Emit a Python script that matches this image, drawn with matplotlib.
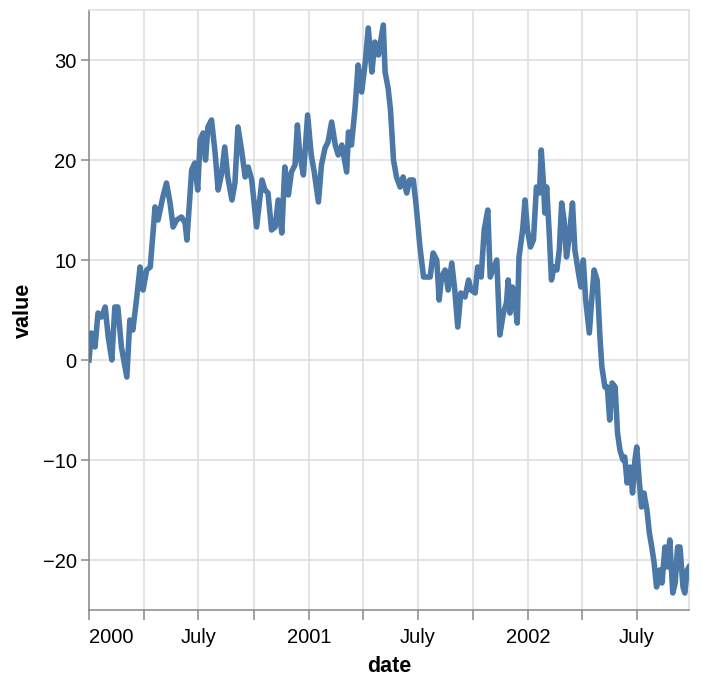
import matplotlib
matplotlib.use("Agg")
import matplotlib.pyplot as plt
import pandas as pd

# days since 2000-01-01
day = [0, 4, 10, 15, 21, 27, 32, 38, 43, 48, 54, 63, 68, 73, 79, 85, 90, 96,
       102, 110, 115, 123, 129, 135, 140, 146, 154, 160, 163, 171, 176, 181,
       185, 190, 194, 198, 204, 210, 215, 221, 226, 231, 238, 243, 248, 254,
       260, 265, 271, 276, 279, 288, 293, 298, 304, 310, 315, 321, 326, 332,
       337, 343, 347, 351, 357, 364, 370, 375, 382, 387, 393, 398, 404, 410,
       415, 421, 429, 432, 437, 443, 448, 454, 460, 465, 471, 476, 482, 490,
       493, 498, 502, 507, 512, 518, 523, 529, 534, 540, 545, 551, 557, 562,
       568, 573, 579, 583, 587, 593, 598, 604, 609, 614, 619, 626, 632, 636,
       643, 647, 653, 658, 664, 668, 679, 684, 690, 695, 698, 701, 705, 709,
       713, 716, 722, 726, 730, 735, 740, 745, 750, 753, 756, 759, 762, 766,
       770, 774, 779, 783, 787, 791, 795, 799, 805, 809, 815, 819, 823, 827,
       833, 837, 841, 846, 851, 854, 859, 863, 867, 871, 876, 880, 884, 889,
       892, 896, 901, 905, 909, 912, 916, 920, 924, 929, 933, 937, 941, 945,
       950, 954, 959, 963, 967, 972, 976, 980, 984, 989, 992, 996, 999]
value = [0, 2.7, 1.3, 4.7, 4.3, 5.3, 2.3, 0, 5.3, 5.3, 1.3, -1.7, 4, 3, 6, 9.3,
         7, 9, 9.3, 15.3, 14, 16.3, 17.7, 15.7, 13.3, 14, 14.3, 13.7, 12, 19,
         19.7, 17, 22, 22.7, 20, 23.3, 24, 20.7, 17, 18.7, 21.3, 18.3, 16,
         17.7, 23.3, 21, 18.3, 19.3, 18, 15, 13.3, 18, 17, 16.7, 13, 13.3, 16,
         12.7, 19.3, 16.5, 18.8, 19.5, 23.5, 20.5, 18.5, 24.5, 20.5, 18.8,
         15.8, 19.5, 21.2, 21.8, 23.8, 21.5, 20.5, 21.5, 18.8, 22.8, 21.5,
         25.2, 29.5, 26.8, 29.8, 33.2, 28.8, 31.8, 30.5, 33.5, 28.8, 27.2, 25,
         20, 18.3, 17.3, 18.3, 16.7, 18, 18, 15.3, 11.3, 8.3, 8.3, 8.3, 10.7,
         10, 6, 8.3, 9, 7, 9.7, 7, 3.3, 6.7, 6.3, 8, 7, 6.7, 9.3, 8.3, 13, 15,
         8.3, 10, 2.5, 4.7, 5.7, 8, 4.7, 7.3, 6, 3.7, 10.3, 13, 16, 13, 11.3,
         12, 17.3, 16.7, 21, 18.3, 14.7, 17.3, 13, 8, 9.3, 9, 11, 15.7, 14,
         10.3, 12, 15.7, 11, 8.7, 7.3, 10, 6, 2.7, 6, 9, 8, 2, -0.7, -2.7,
         -2.7, -6, -2.3, -2.7, -7.3, -9, -10, -9.7, -12.3, -10.7, -13.3, -10,
         -8.7, -12, -14.7, -13.3, -15, -17.3, -18.7, -20.3, -22.7, -21, -22.3,
         -18.7, -20.7, -18, -23.3, -22.3, -18.7, -18.7, -22.7, -23.3, -21,
         -20.7]

tick_dates = ["2000-01-01", "2000-04-01", "2000-07-01", "2000-10-01",
              "2001-01-01", "2001-04-01", "2001-07-01", "2001-10-01",
              "2002-01-01", "2002-04-01", "2002-07-01"]
tick_labels = ["2000", "", "July", "", "2001", "", "July", "", "2002", "", "July"]
y_ticks = [-20, -10, 0, 10, 20, 30]

plt.rcParams["font.family"] = ["Liberation Sans", "DejaVu Sans"]

dates = pd.Timestamp("2000-01-01") + pd.to_timedelta(day, unit="D")

fig = plt.figure(figsize=(7.02, 6.84), dpi=100)
ax = fig.add_axes([89 / 702, 74 / 684, 600 / 702, 600 / 684])

ax.plot(dates, value, color="#4c78a8", lw=4, solid_joinstyle="round", zorder=3)

ax.set_xlim(pd.Timestamp("2000-01-01"), pd.Timestamp("2000-01-01") + pd.Timedelta(days=999))
ax.set_ylim(-25, 35)

ax.set_xticks(pd.to_datetime(tick_dates))
ax.set_xticklabels(tick_labels)
ax.get_xticklabels()[0].set_horizontalalignment("left")
ax.set_yticks(y_ticks)
ax.set_yticklabels(["\u2212" + str(-t) if t < 0 else str(t) for t in y_ticks])

ax.grid(True, color="#dddddd", lw=1.1, zorder=0)
ax.set_axisbelow(True)
for s in ["top", "right"]:
    ax.spines[s].set_color("#dddddd")
    ax.spines[s].set_linewidth(1.1)
for s in ["left", "bottom"]:
    ax.spines[s].set_color("#888888")
    ax.spines[s].set_linewidth(1.1)
ax.tick_params(axis="both", colors="#888888", width=1.1, labelcolor="black", labelsize=14.5)
ax.tick_params(axis="x", length=7.5, pad=5.5)
ax.tick_params(axis="y", length=6, pad=3)

ax.set_xlabel("date", fontsize=15.5, fontweight="bold", labelpad=6.5)
ax.set_ylabel("value", fontsize=15.5, fontweight="bold", labelpad=6)

fig.savefig("out.png", dpi=100)
